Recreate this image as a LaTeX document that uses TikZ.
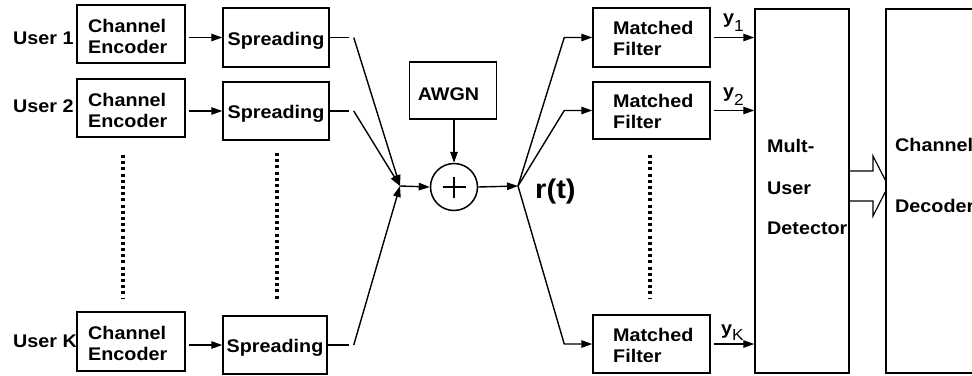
\documentclass[tikz,border=0pt]{standalone}
\usepackage{fontspec}
\setmainfont{Liberation Sans}[FakeStretch=1.08]
\usetikzlibrary{arrows.meta}
\begin{document}
\begin{tikzpicture}[x=1pt,y=-1pt,
  box/.style={draw,line width=1.5pt,inner sep=0pt},
  txt/.style={inner sep=0pt,anchor=base west,font=\fontsize{18.3}{21}\selectfont\bfseries},
  ctxt/.style={txt,anchor=base},
  conn/.style={line width=1.4pt},
  arr/.style={line width=1.4pt,-{Triangle[length=11pt,width=7.5pt]}},
  dotline/.style={line width=3.2pt,dash pattern=on 3pt off 3.2pt}]
\useasboundingbox (0,0) rectangle (972,375);
\clip (0,0) rectangle (972,375);

% ---- boxes
\node[box,minimum width=108pt,minimum height=58pt] (ce1) at (131,34) {};
\node[box,minimum width=108pt,minimum height=58pt] (ce2) at (131,108) {};
\node[box,minimum width=108pt,minimum height=59pt] (ceK) at (131,341.5) {};
\node[box,minimum width=106pt,minimum height=59pt] (sp1) at (276,37.5) {};
\node[box,minimum width=106pt,minimum height=58pt] (sp2) at (276,111) {};
\node[box,minimum width=104pt,minimum height=58pt] (spK) at (275,345) {};
\node[box,minimum width=87pt,minimum height=57pt] (awgn) at (453,90.5) {};
\node[draw,circle,line width=1.5pt,minimum size=47pt,inner sep=0pt] (sum) at (454,187) {};
\node[box,minimum width=117pt,minimum height=59pt] (mf1) at (651.5,37.5) {};
\node[box,minimum width=117pt,minimum height=57pt] (mf2) at (651.5,110.5) {};
\node[box,minimum width=117pt,minimum height=58pt] (mfK) at (651.5,344) {};
\node[box,minimum width=94pt,minimum height=364pt] (mud) at (802,191) {};
\node[box,minimum width=114pt,minimum height=364pt] (dec) at (943,191) {};

% ---- texts (base anchor of a two-line text = baseline of its last line)
\node[txt] (u1) at (13,44) {User 1};
\node[txt] (u2) at (13,112) {User 2};
\node[txt] (uK) at (13,347) {User K};
\node[txt,align=left] (ce1t) at (88,53) {Channel\\Encoder};
\node[txt,align=left] (ce2t) at (88,127) {Channel\\Encoder};
\node[txt,align=left] (ceKt) at (88,360.5) {Channel\\Encoder};
\node[ctxt] (sp1t) at (276,45) {Spreading};
\node[ctxt] (sp2t) at (276,118.5) {Spreading};
\node[ctxt] (spKt) at (275,352) {Spreading};
\node[ctxt] (awgnt) at (448.5,100) {AWGN};
\node[txt,font=\fontsize{27}{30}\selectfont\bfseries] (rt) at (535,198) {r(t)};
\node[txt,align=left] (mf1t) at (613,55) {Matched\\Filter};
\node[txt,align=left] (mf2t) at (613,128.5) {Matched\\Filter};
\node[txt,align=left] (mfKt) at (613,362) {Matched\\Filter};
\node[txt] (y1) at (723,23) {y\raisebox{-8pt}{\fontsize{16}{16}\selectfont\mdseries 1}};
\node[txt] (y2) at (723,97) {y\raisebox{-8pt}{\fontsize{16}{16}\selectfont\mdseries 2}};
\node[txt] (yK) at (721,334) {y\raisebox{-6pt}{\fontsize{16}{16}\selectfont\mdseries K}};
\node[txt] (mudt1) at (767,152) {Mult-};
\node[txt] (mudt2) at (767,194) {User};
\node[txt] (mudt3) at (767,234) {Detector};
\node[txt] (dect1) at (895,151) {Channel};
\node[txt] (dect2) at (895,212) {Decoder};

% ---- plus sign
\draw[line width=1.6pt] ([xshift=-11.5pt]sum.center) -- ([xshift=11.5pt]sum.center);
\draw[line width=1.6pt] ([yshift=-10.5pt]sum.center) -- ([yshift=10.5pt]sum.center);

% ---- dotted continuation marks
\draw[dotline] (123,155) -- (123,298);
\draw[dotline] (277,153) -- (277,300);
\draw[dotline] (650,155) -- (650,298);

% ---- junction points
\coordinate (J1) at (400,186);
\coordinate (J2) at (518,186);

% ---- encoder -> spreading
\draw[arr,shorten <=3pt] (ce1.east |- sp1.west) -- (sp1.west);
\draw[arr,shorten <=3pt] (ce2.east |- sp2.west) -- (sp2.west);
\draw[arr,shorten <=3pt] (ceK.east |- spK.west) -- (spK.west);

% ---- spreading -> combiner
\draw[conn] (sp1.east) -- ([xshift=19pt]sp1.east);
\draw[conn] (sp2.east) -- ([xshift=19pt]sp2.east);
\draw[conn] (spK.east) -- ([xshift=21pt]spK.east);
\draw[arr] ([xshift=24pt]sp1.east) -- (J1);
\draw[arr] ([xshift=24pt]sp2.east) -- (J1);
\draw[arr] ([xshift=26pt]spK.east) -- (J1);
\draw[arr] (J1) -- (sum.west);
\draw[arr] (sum.north |- awgn.south) -- (sum.north);
\draw[arr] (sum.east) -- (J2);

% ---- r(t) -> matched filters
\coordinate (m1) at ([xshift=-28pt]mf1.west);
\coordinate (m2) at ([xshift=-28pt]mf2.west);
\coordinate (mK) at ([xshift=-28pt]mfK.west);
\draw[arr] (J2) -- (m1) -- (mf1.west);
\draw[arr] (J2) -- (m2) -- (mf2.west);
\draw[arr] (J2) -- (mK) -- (mfK.west);

% ---- matched filters -> detector
\draw[arr,shorten <=3pt] (mf1.east) -- (mf1.east -| mud.west);
\draw[arr,shorten <=3pt] (mf2.east) -- (mf2.east -| mud.west);
\draw[arr,shorten <=3pt] (mfK.east) -- (mfK.east -| mud.west);

% ---- hollow arrow detector -> decoder
\draw[conn,line width=1.2pt] (mud.east |- 0,171) -- (873,171) -- (873,156) -- (dec.west |- 0,180);
\draw[conn,line width=1.2pt] (mud.east |- 0,201) -- (873,201) -- (873,216) -- (dec.west |- 0,192);
\end{tikzpicture}
\end{document}
